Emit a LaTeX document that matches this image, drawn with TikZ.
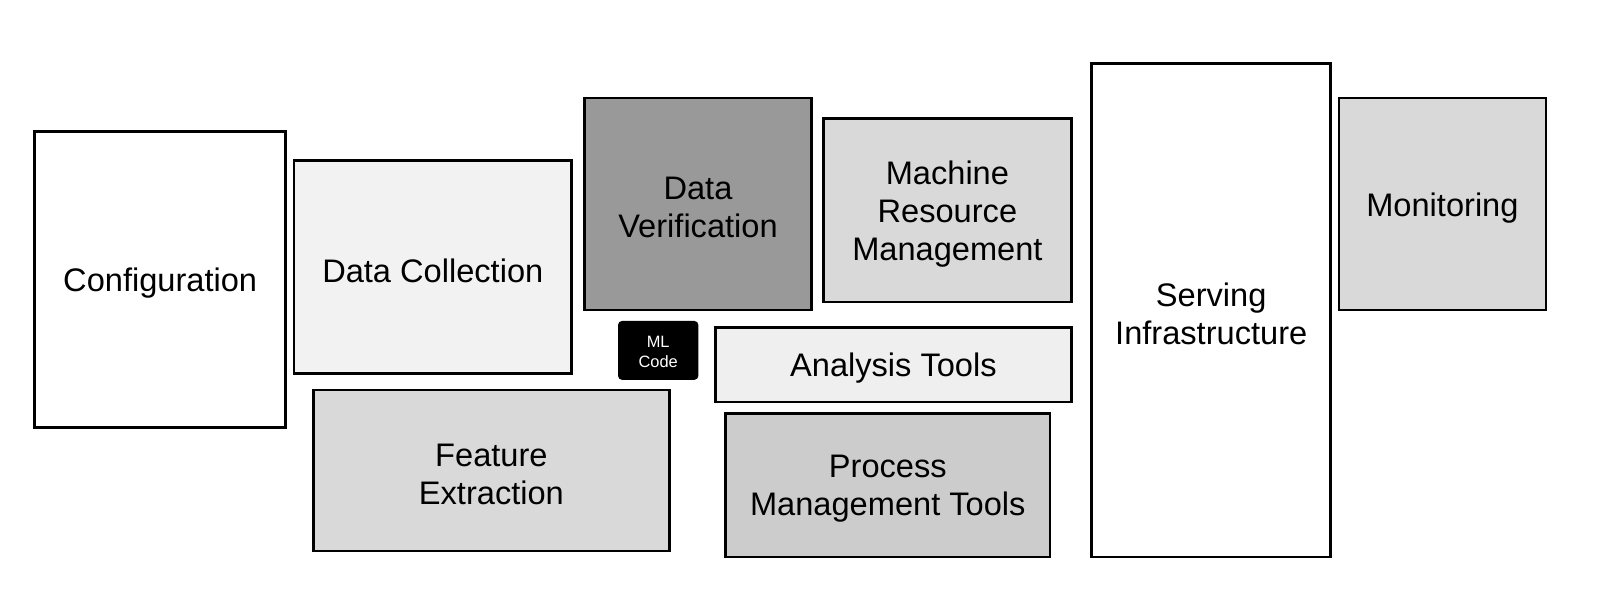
\documentclass[tikz,border=0pt]{standalone}
\usepackage{fontspec}
\setmainfont{Liberation Sans}
\usetikzlibrary{positioning}
\definecolor{paleGray}{HTML}{F2F2F2}
\definecolor{lightGray}{HTML}{D9D9D9}
\definecolor{midGray}{HTML}{CCCCCC}
\definecolor{darkGray}{HTML}{999999}
\definecolor{toolGray}{HTML}{EFEFEF}
\tikzstyle{box}=[draw=black,fill=#1,line width=1.4pt,inner sep=0pt]
\tikzstyle{boxtext}=[align=center,inner sep=0pt,font=\fontsize{16.3}{19}\selectfont]
\newcommand{\block}[6]{\node[box=#5, minimum width=#3pt, minimum height=#4pt] (#1) at #2 {};
    \node[boxtext] (#1-t) at ([yshift=-1.8pt]#1.center) {#6};}

\begin{document}
\begin{tikzpicture}[x=1pt,y=1pt]
    \useasboundingbox (0,0) rectangle (800,-305);
    % left column
    \block{config}{(80.1,-139.8)}{125.5}{148}{white}{Configuration}
    \block{collect}{(216.4,-133.5)}{138.8}{106.7}{paleGray}{Data Collection}
    \block{feature}{(245.7,-235.2)}{178}{80.5}{lightGray}{Feature\\Extraction}

    % middle
    \block{verify}{(349,-102)}{113.2}{106}{darkGray}{Data\\Verification}
    \node[box=black, rounded corners=1.5pt, minimum width=38.8pt, minimum height=28.1pt] (mlcode) at (329.1,-175.2) {};
    \node[boxtext, text=white, font=\fontsize{8.2}{10}\selectfont] (mlcode-t) at ([yshift=-1pt]mlcode.center) {ML\\Code};
    \block{machine}{(473.7,-105.1)}{124}{91.8}{lightGray}{Machine\\Resource\\Management}
    \block{analysis}{(446.7,-182.4)}{178}{37.2}{toolGray}{Analysis Tools}
    \block{process}{(443.9,-242.6)}{162.2}{71.8}{midGray}{Process\\Management Tools}

    % right column
    \block{serving}{(605.6,-155.1)}{119.4}{246.8}{white}{Serving\\Infrastructure}
    \block{monitor}{(721.2,-102)}{103.5}{106}{lightGray}{Monitoring}
\end{tikzpicture}
\end{document}
